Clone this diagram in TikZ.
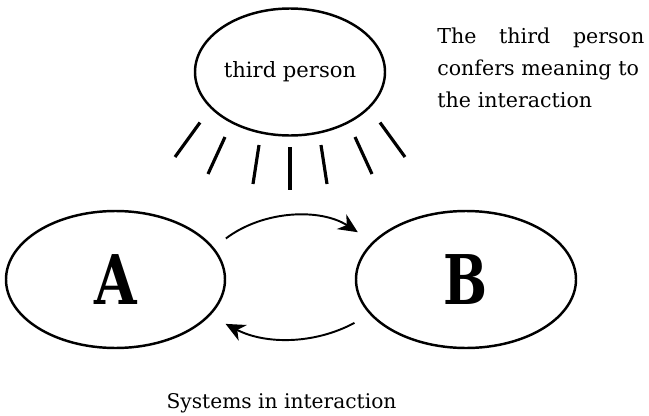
\documentclass[tikz,border=0pt]{standalone}
\usepackage{fontspec}
\setmainfont{DejaVu Serif}
\usepackage{tikz}
\usepackage{graphicx}
\usetikzlibrary{shapes.geometric, positioning, arrows.meta}

\begin{document}
\begin{tikzpicture}[
          sys/.style={ellipse, draw, line width=1.4pt,
                      inner sep=0pt},
          big/.style={font=\fontsize{39}{39}\selectfont\bfseries},
          ray/.style={line width=1.8pt},
          arr/.style={-{Stealth[length=11pt, width=10pt, inset=3.5pt]},
                      line width=1.1pt}
        ]
        \useasboundingbox (0,0) rectangle (12.98,8.3);
        % The observer
        \node[sys, minimum width=3.8cm, minimum height=2.54cm,
              font=\fontsize{12}{14}\selectfont]
              (tp) at (5.8, 6.86) {third person};
        \foreach \sx/\sy/\ex/\ey in {-1.8/-1.01/-2.3/-1.70,
                                     -1.3/-1.30/-1.64/-2.04,
                                     -0.62/-1.46/-0.74/-2.24,
                                     0/-1.5/0/-2.36,
                                     0.62/-1.46/0.74/-2.24,
                                     1.3/-1.30/1.64/-2.04,
                                     1.8/-1.01/2.3/-1.70}
          \draw[ray] ([shift={(\sx,\sy)}]tp.center)
                  -- ([shift={(\ex,\ey)}]tp.center);
        \node[anchor=north west, inner sep=0pt, text width=4.14cm,
              align=left, font=\fontsize{11.7}{18.2}\selectfont]
              (note) at (8.74, 7.74)
              {The\hfill third\hfill person\\confers meaning to\\the interaction};

        % The two systems
        \node[sys, minimum width=4.38cm, minimum height=2.74cm, big]
              (A) at (2.31, 2.71) {\scalebox{0.8}[1]{A}};
        \node[sys, minimum width=4.4cm, minimum height=2.74cm, big]
              (B) at (9.32, 2.71) {\scalebox{0.76}[1]{B}};
        \draw[arr, shorten <=0.3cm, shorten >=0.35cm]
              (A.18) to[bend left=35] (B.158);
        \draw[arr, shorten <=0.35cm, shorten >=0.35cm]
              (B.200) to[bend left=28] (A.-21);

        % Caption
        \node[anchor=base, font=\fontsize{11.5}{14}\selectfont]
              (cap) at (5.63, 0.14) {Systems in interaction};
      \end{tikzpicture}
\end{document}
